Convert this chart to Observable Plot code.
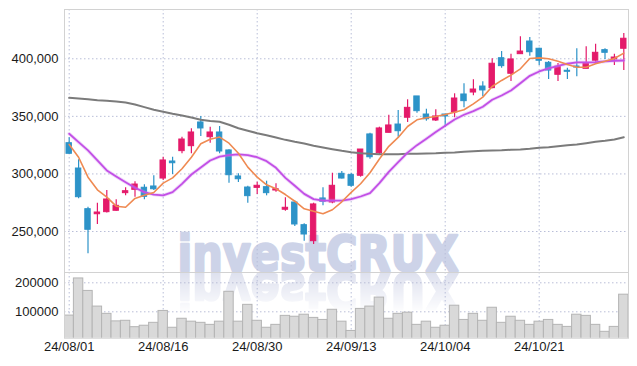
<!DOCTYPE html>
<html>
<head>
<meta charset="utf-8">
<script src="https://cdn.jsdelivr.net/npm/d3@7"></script>
<script src="https://cdn.jsdelivr.net/npm/@observablehq/plot@0.6"></script>
<style>
  html, body { margin: 0; padding: 0; background: #fff; }
  #wrap { position: relative; width: 637px; height: 366px; overflow: hidden; font-family: "Liberation Sans", Arial, sans-serif; }
  #wm { position: absolute; left: 0; top: 0; }
  #charts { position: absolute; left: 0; top: 0; }
  #charts svg { display: block; }
</style>
</head>
<body>
<div id="wrap">
  <svg id="wm" width="637" height="366">
    <defs>
      <linearGradient id="fade" x1="0" y1="0" x2="0" y2="1">
        <stop offset="0" stop-color="#fff" stop-opacity="1"/>
        <stop offset="1" stop-color="#fff" stop-opacity="0"/>
      </linearGradient>
      <mask id="refl"><rect x="0" y="272" width="637" height="42" fill="url(#fade)"/></mask>
    </defs>
    <text x="177.5" y="270.7" font-family="'DejaVu Sans', sans-serif" font-size="50" font-weight="bold" fill="#cdd3e8" stroke="#cdd3e8" stroke-width="2.4" stroke-linejoin="round" textLength="281" lengthAdjust="spacingAndGlyphs">investCRUX</text>
    <g mask="url(#refl)">
      <text x="177.5" y="270.7" transform="translate(0,543.4) scale(1,-1)" font-family="'DejaVu Sans', sans-serif" font-size="50" font-weight="bold" fill="#dde0ee" stroke="#dde0ee" stroke-width="2.4" stroke-linejoin="round" textLength="281" lengthAdjust="spacingAndGlyphs">investCRUX</text>
    </g>
  </svg>
  <div id="charts"></div>
</div>
<script>
const dates = [
  "24/08/01","24/08/02","24/08/05","24/08/06","24/08/07","24/08/08","24/08/09","24/08/12","24/08/13","24/08/14",
  "24/08/16","24/08/19","24/08/20","24/08/21","24/08/22","24/08/23","24/08/26","24/08/27","24/08/28","24/08/29",
  "24/08/30","24/09/02","24/09/03","24/09/04","24/09/05","24/09/06","24/09/09","24/09/10","24/09/11","24/09/12",
  "24/09/13","24/09/19","24/09/20","24/09/23","24/09/24","24/09/25","24/09/26","24/09/27","24/09/30","24/10/02",
  "24/10/04","24/10/07","24/10/08","24/10/10","24/10/11","24/10/14","24/10/15","24/10/16","24/10/17","24/10/18",
  "24/10/21","24/10/22","24/10/23","24/10/24","24/10/25","24/10/28","24/10/29","24/10/30","24/10/31","24/11/01"
];
const openP = [
  326700,304700,269400,265000,266800,268000,283300,286200,288000,289100,
  296000,310800,319800,324100,344700,331900,336000,320400,297800,288200,
  287900,288500,285600,268900,275200,255500,241600,278700,275200,300100,
  299000,298400,334300,318000,335700,342900,348800,367300,351600,346400,
  351600,353400,369000,370700,375900,374500,400500,387000,404000,415000,
  408700,396500,386100,389600,393300,391300,398300,407500,399400,408700
];
const highP = [
  331400,312300,271100,274600,285600,277500,288000,293200,290600,298400,
  314500,314500,331900,339200,349900,340600,341200,321000,300100,289400,
  292800,293700,291400,279300,276500,256700,274600,288000,300600,302100,
  300600,321200,335400,340600,351000,355100,364400,367300,356200,355700,
  351600,369600,378300,381800,380000,400000,406300,404000,419100,418500,
  409200,397700,395900,391800,408700,410400,412700,408700,404000,422000
];
const lowP = [
  317000,278400,230600,256100,266000,267500,281000,279800,277500,285600,
  294300,299500,317500,317500,332500,326700,317500,292000,292600,274600,
  282100,281000,284200,267600,254400,241600,238700,272300,274100,295500,
  288500,297200,312800,316900,335700,331900,344700,352800,345800,345500,
  340600,348800,357400,367900,367300,374000,391800,380300,404000,402300,
  394200,382000,380300,382000,384400,391300,397000,399400,394200,389800
];
const closeP = [
  317500,279800,251500,266500,277800,272300,285000,290800,280100,286700,
  311700,309300,329900,336000,339500,336000,319500,298900,295400,280700,
  289700,283300,286700,270600,256100,247400,273500,275800,289700,296000,
  289700,321200,314500,339500,342100,337100,357400,354500,347500,349900,
  349900,365500,363200,373300,372500,395700,393600,399400,406300,405700,
  398300,389800,393100,388700,392400,395900,405200,405200,401100,417400
];
const maShort = [
  325600,314500,297200,286200,279800,272000,271100,278700,281500,283900,
  292000,296600,304500,314500,326200,330200,332000,326700,318000,305900,
  297200,290600,287100,282100,276300,269700,267600,265400,268900,275800,
  284000,291500,301000,313000,324000,331700,341200,347000,348800,349900,
  351600,353600,355700,360900,366700,375900,381200,385800,391300,400300,
  400800,400000,397900,395000,392700,392700,395700,397900,400300,404900
];
const maMid = [
  334900,327600,320400,311700,303000,297800,292800,288000,284200,282100,
  281300,284200,291400,299500,305500,311700,315100,316300,316900,316300,
  314500,311100,305300,296600,289700,282700,278100,276900,276900,276900,
  278100,280400,283300,292000,301800,310200,318500,325000,330600,336400,
  341800,347300,351400,354500,358300,364400,368100,372500,378800,385200,
  389000,391600,393900,395700,396800,396800,397000,397700,398300,398500
];
const maLong = [
  366100,365500,364900,364000,363500,362900,362000,360300,358000,355700,
  354000,352200,350800,349000,347000,346000,345300,342700,339700,337500,
  335400,333600,331600,329600,327900,326400,324400,323000,321500,320100,
  318900,318000,317500,317200,317200,317200,317500,317500,317800,318000,
  318400,318600,319200,319800,320100,320400,320600,321000,321200,321800,
  322700,323200,324100,325000,325600,326700,327900,328800,329900,331900
];
const volume = [
  87000,215000,172000,118000,93000,67000,69000,47000,52000,62000,
  103000,45000,76000,66000,62000,55000,66000,169000,66000,124000,
  69000,45000,55000,86000,83000,90000,79000,72000,107000,66000,
  34000,110000,118000,149000,76000,93000,97000,55000,66000,45000,
  52000,121000,72000,93000,69000,114000,62000,83000,69000,55000,
  66000,72000,55000,48000,90000,86000,55000,31000,48000,159000
];
const xTicks = ["24/08/01","24/08/16","24/08/30","24/09/13","24/10/04","24/10/21"];
const priceTicks = [250000, 300000, 350000, 400000];
const volumeTicks = [100000, 200000];

const rows = dates.map((d, i) => ({
  date: d, open: openP[i], high: highP[i], low: lowP[i], close: closeP[i],
  ma1: maShort[i], ma2: maMid[i], ma3: maLong[i], vol: volume[i]
}));

const UP = "#e41a6a", DOWN = "#2d93c8";
const GRID = {stroke: "#b9bed8", strokeOpacity: 1, strokeDasharray: "1.5,2.5"};
const FONT = "'Liberation Sans', Arial, sans-serif";
const isUp = d => d.close >= d.open;

const main = Plot.plot({
  width: 637, height: 272,
  marginLeft: 64, marginRight: 9, marginTop: 9, marginBottom: 0,
  style: {background: "transparent", fontFamily: FONT, color: "#1a1a1a", overflow: "visible"},
  x: {type: "band", domain: dates, padding: 0, round: false, axis: null},
  y: {domain: [214400, 442800], axis: null},
  marks: [
    Plot.gridX(xTicks, GRID),
    Plot.gridY(priceTicks, GRID),
    Plot.frame({stroke: "#d2d2d2"}),
    Plot.axisY(priceTicks, {tickSize: 0, tickPadding: 6, fontSize: 13, label: null, tickFormat: d3.format(",")}),
    Plot.ruleX(rows, {filter: isUp, x: "date", y1: "low", y2: "high", stroke: UP, strokeWidth: 1.2}),
    Plot.ruleX(rows, {filter: d => !isUp(d), x: "date", y1: "low", y2: "high", stroke: DOWN, strokeWidth: 1.2}),
    Plot.barY(rows, {filter: isUp, x: "date", y1: "open", y2: "close", fill: UP, stroke: UP, strokeWidth: 1, insetLeft: 2, insetRight: 2}),
    Plot.barY(rows, {filter: d => !isUp(d), x: "date", y1: "open", y2: "close", fill: DOWN, stroke: DOWN, strokeWidth: 1, insetLeft: 2, insetRight: 2}),
    Plot.line(rows, {x: "date", y: "ma3", stroke: "#7b7b7b", strokeWidth: 2}),
    Plot.line(rows, {x: "date", y: "ma2", stroke: "#d58cf0", strokeWidth: 3.5, strokeOpacity: 0.35}),
    Plot.line(rows, {x: "date", y: "ma2", stroke: "#c24fe6", strokeWidth: 1.8}),
    Plot.line(rows, {x: "date", y: "ma1", stroke: "#ef8a52", strokeWidth: 1.6})
  ]
});

const vol = Plot.plot({
  width: 637, height: 94,
  marginLeft: 64, marginRight: 9, marginTop: 0, marginBottom: 28.3,
  style: {background: "transparent", fontFamily: FONT, color: "#1a1a1a", overflow: "visible"},
  x: {type: "band", domain: dates, padding: 0, round: false, axis: null},
  y: {domain: [9000, 235500], axis: null},
  marks: [
    Plot.gridX(xTicks, GRID),
    Plot.gridY(volumeTicks, GRID),
    Plot.barY(rows, {x: "date", y: "vol", fill: "#d9d9d9", stroke: "#b4b4b4", strokeWidth: 1, clip: true}),
    Plot.frame({stroke: "#d2d2d2"}),
    Plot.axisY(volumeTicks, {tickSize: 0, tickPadding: 6, fontSize: 13, label: null, tickFormat: d => String(d)}),
    Plot.axisX(xTicks, {tickSize: 0, tickPadding: 4, fontSize: 13, label: null})
  ]
});

const host = document.getElementById("charts");
host.appendChild(main);
host.appendChild(vol);
</script>
</body>
</html>
